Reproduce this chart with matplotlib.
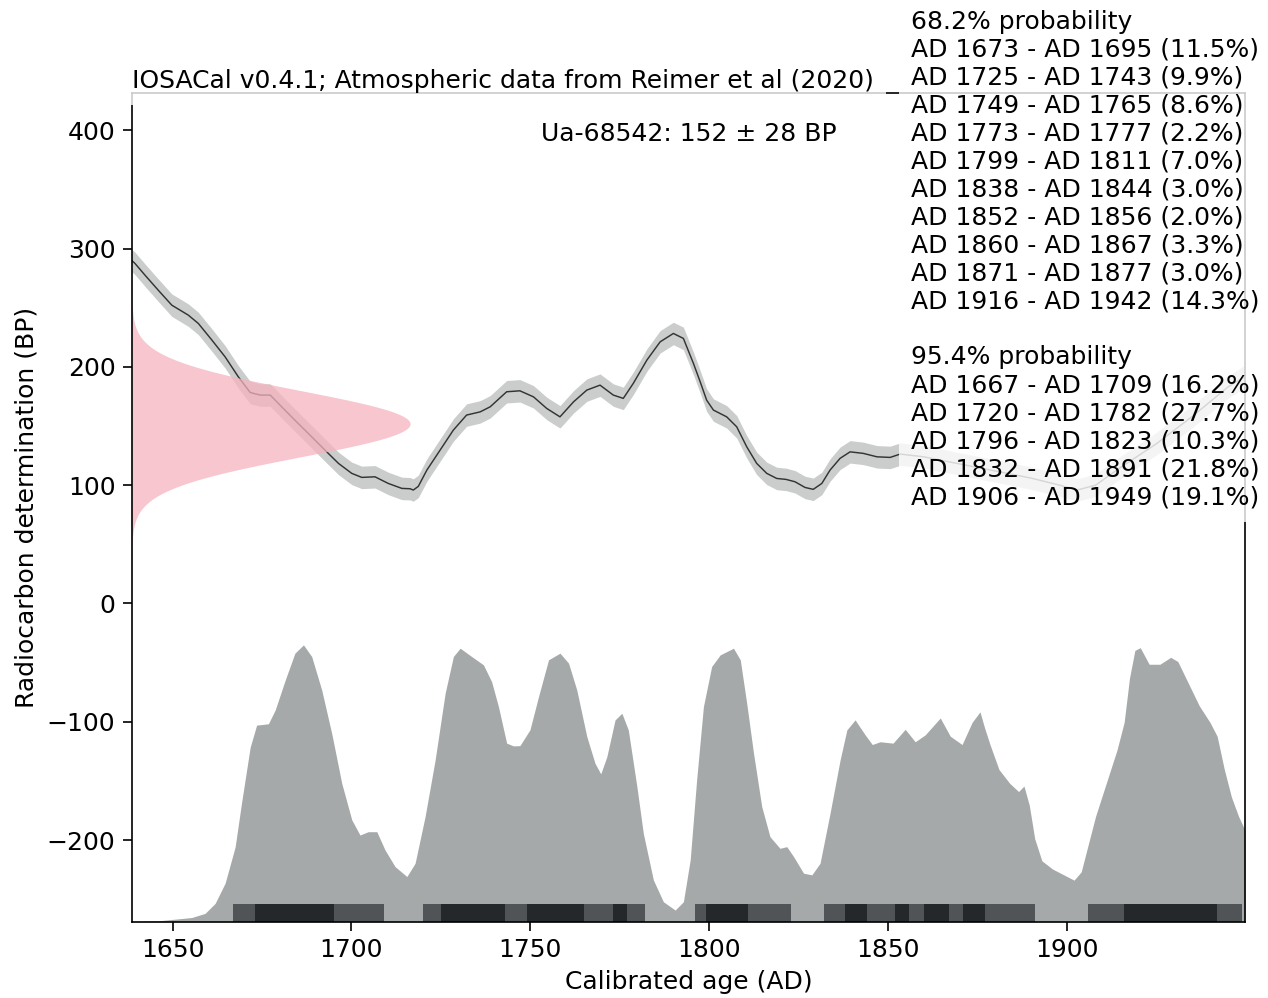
#draws an IOSACal style calibration plot for Ua-68542
import numpy as np
import matplotlib.pyplot as plt

Title = 'IOSACal v0.4.1; Atmospheric data from Reimer et al (2020)'
DateLabel = 'Ua-68542: 152 ± 28 BP'
Xlabel = 'Calibrated age (AD)'
Ylabel = 'Radiocarbon determination (BP)'

# radiocarbon date
date_mean = 152
date_sd = 28

# calibration curve (AD, BP), half width of band
curve_years = [1638.6, 1639.5, 1642.3, 1646.0, 1649.8, 1654.4, 1657.2, 1661.0, 1664.7, 1668.4,
               1671.7, 1674.5, 1677.3, 1680.5, 1684.2, 1688.9, 1692.6, 1696.4, 1700.1, 1702.9,
               1706.6, 1710.3, 1714.1, 1716.4, 1717.3, 1718.7, 1721.1, 1724.8, 1728.5, 1732.2,
               1736.0, 1738.8, 1743.4, 1747.1, 1750.9, 1754.6, 1758.3, 1762.1, 1765.8, 1769.5,
               1773.2, 1776.0, 1778.8, 1782.6, 1786.3, 1790.0, 1792.8, 1795.6, 1797.5, 1799.3,
               1801.2, 1804.9, 1807.7, 1810.5, 1813.3, 1816.1, 1818.9, 1821.5, 1824.0, 1826.8,
               1829.1, 1831.5, 1833.8, 1836.6, 1839.4, 1843.1, 1846.9, 1850.6, 1853.4, 1860.0,
               1870.0, 1880.0, 1890.0, 1898.0, 1903.0, 1908.0, 1915.0, 1925.0, 1935.0, 1945.0,
               1949.8]
curve_bp = [290.0, 287.5, 277.6, 264.9, 252.2, 243.8, 236.8, 222.7, 208.5, 191.6,
            178.4, 176.2, 176.2, 166.3, 155.0, 140.9, 129.7, 118.4, 110.0, 106.6,
            107.1, 101.5, 97.3, 97.0, 95.9, 99.0, 112.8, 129.7, 146.6, 159.3,
            162.0, 166.3, 179.0, 179.8, 174.7, 164.9, 157.8, 170.5, 180.4, 184.6,
            176.2, 173.4, 186.1, 205.8, 221.2, 228.3, 224.1, 203.0, 187.4, 171.9,
            163.5, 157.8, 149.4, 132.5, 118.4, 110.0, 105.7, 104.9, 102.9, 98.1,
            96.5, 101.5, 112.8, 122.7, 128.2, 126.9, 124.0, 123.5, 126.3, 124.0,
            118.0, 112.0, 106.0, 100.0, 96.0, 100.0, 115.0, 135.0, 158.0, 183.0,
            192.0]
curve_err = 9.5

# calibrated probability (relative to max)
dist_years = [1638.6, 1646.0, 1655.4, 1659.1, 1661.9, 1664.7, 1667.5, 1669.3, 1671.7, 1673.5,
              1676.8, 1678.7, 1681.5, 1684.2, 1686.6, 1688.9, 1691.7, 1694.5, 1697.3, 1700.1,
              1702.4, 1704.7, 1707.1, 1709.4, 1712.2, 1715.5, 1717.8, 1720.6, 1723.4, 1726.2,
              1728.5, 1730.4, 1733.6, 1736.9, 1739.2, 1741.1, 1743.4, 1745.3, 1747.1, 1749.9,
              1752.3, 1755.1, 1758.3, 1760.7, 1763.0, 1765.8, 1768.1, 1769.7, 1771.4, 1773.7,
              1775.6, 1777.4, 1779.8, 1781.6, 1784.4, 1787.2, 1790.5, 1792.8, 1794.7, 1796.5,
              1798.4, 1800.7, 1803.1, 1806.8, 1808.7, 1810.5, 1812.4, 1814.7, 1817.0, 1819.8,
              1821.7, 1823.6, 1826.4, 1828.7, 1831.0, 1833.8, 1836.6, 1838.5, 1840.8, 1843.6,
              1845.6, 1847.8, 1851.4, 1854.8, 1857.6, 1860.4, 1864.6, 1867.4, 1870.7, 1873.5,
              1875.7, 1877.0, 1878.5, 1881.0, 1884.0, 1886.5, 1888.0, 1889.5, 1891.0, 1893.0,
              1896.0, 1899.0, 1902.0, 1904.0, 1906.0, 1908.0, 1910.0, 1912.0, 1914.0, 1916.0,
              1917.5, 1919.0, 1920.5, 1923.0, 1926.0, 1929.0, 1931.0, 1934.0, 1937.0, 1940.0,
              1942.0, 1944.0, 1946.0, 1948.0, 1949.8]
dist_prob = [0.001, 0.003, 0.015, 0.03, 0.066, 0.139, 0.27, 0.43, 0.63, 0.71,
             0.715, 0.765, 0.873, 0.97, 1.0, 0.958, 0.837, 0.68, 0.5, 0.368,
             0.313, 0.325, 0.325, 0.259, 0.199, 0.163, 0.211, 0.38, 0.584, 0.825,
             0.958, 0.988, 0.958, 0.928, 0.867, 0.777, 0.645, 0.635, 0.636, 0.693,
             0.813, 0.946, 0.97, 0.934, 0.837, 0.669, 0.572, 0.534, 0.596, 0.729,
             0.753, 0.693, 0.488, 0.319, 0.151, 0.072, 0.042, 0.072, 0.223, 0.512,
             0.777, 0.922, 0.964, 0.988, 0.946, 0.789, 0.609, 0.416, 0.307, 0.265,
             0.271, 0.235, 0.175, 0.169, 0.211, 0.392, 0.584, 0.693, 0.729, 0.675,
             0.64, 0.65, 0.645, 0.695, 0.65, 0.675, 0.736, 0.67, 0.64, 0.72,
             0.758, 0.70, 0.64, 0.55, 0.50, 0.47, 0.49, 0.42, 0.30, 0.22,
             0.19, 0.17, 0.15, 0.18, 0.28, 0.38, 0.46, 0.54, 0.62, 0.72,
             0.88, 0.98, 0.99, 0.93, 0.93, 0.955, 0.94, 0.86, 0.78, 0.72,
             0.67, 0.55, 0.45, 0.38, 0.33]

# highest density ranges
ranges68 = [(1673, 1695), (1725, 1743), (1749, 1765), (1773, 1777), (1799, 1811),
            (1838, 1844), (1852, 1856), (1860, 1867), (1871, 1877), (1916, 1942)]
probs68 = [11.5, 9.9, 8.6, 2.2, 7.0, 3.0, 2.0, 3.3, 3.0, 14.3]
ranges95 = [(1667, 1709), (1720, 1782), (1796, 1823), (1832, 1891), (1906, 1949)]
probs95 = [16.2, 27.7, 10.3, 21.8, 19.1]

xlim = (1638.6, 1949.8)
ylim = (-269, 432)

plt.rcParams['font.size'] = 12
fig = plt.figure(figsize=(1268 / 150, 998 / 150), dpi=150)
ax = fig.add_axes([0.1039, 0.0765, 0.8780, 0.8308])

# calibrated distribution at the bottom
dist_h = ylim[0] + np.array(dist_prob) * 234
ax.fill_between(dist_years, ylim[0], dist_h, color='#a5a9aa', lw=0, zorder=1)
for a, b in ranges95:
    ax.axvspan(a, b, ymin=0, ymax=0.021, color='#505456', lw=0, zorder=1.2)
for a, b in ranges68:
    ax.axvspan(a, b, ymin=0, ymax=0.021, color='#25282a', lw=0, zorder=1.3)

# calibration curve
cb = np.array(curve_bp)
ax.fill_between(curve_years, cb - curve_err, cb + curve_err, color='#cbcdcd', lw=0, zorder=2)
ax.plot(curve_years, cb, color='#333333', lw=0.7, zorder=2.1)

# radiocarbon date as gaussian on the y axis
bp = np.linspace(date_mean - 4 * date_sd, date_mean + 4 * date_sd, 300)
w = np.exp(-0.5 * ((bp - date_mean) / date_sd) ** 2) * 0.25 * (xlim[1] - xlim[0])
ax.fill_betweenx(bp, xlim[0], xlim[0] + w, color='#f5b3bf', alpha=0.75, lw=0, zorder=2.5)

ax.set_xlim(xlim)
ax.set_ylim(ylim)
ax.set_xticks([1650, 1700, 1750, 1800, 1850, 1900])
ax.set_yticks([-200, -100, 0, 100, 200, 300, 400])
ax.tick_params(length=4.3)
ax.set_xlabel(Xlabel)
ax.set_ylabel(Ylabel)

box = dict(facecolor='white', alpha=0.8, edgecolor='none', pad=6)
ax.text(0, 1.0, Title, transform=ax.transAxes, ha='left', va='bottom', bbox=box)
ax.text(0.5, 0.95, DateLabel, transform=ax.transAxes, ha='center', va='center')

lines = ['68.2% probability']
lines += ['AD %d - AD %d (%.1f%%)' % (a, b, p) for (a, b), p in zip(ranges68, probs68)]
lines += ['', '95.4% probability']
lines += ['AD %d - AD %d (%.1f%%)' % (a, b, p) for (a, b), p in zip(ranges95, probs95)]
ax.text(0.70, 1.10, '\n'.join(lines), transform=ax.transAxes, ha='left', va='top',
        linespacing=1.21, bbox=box)

plt.savefig('out.png', dpi=150)
plt.close()
